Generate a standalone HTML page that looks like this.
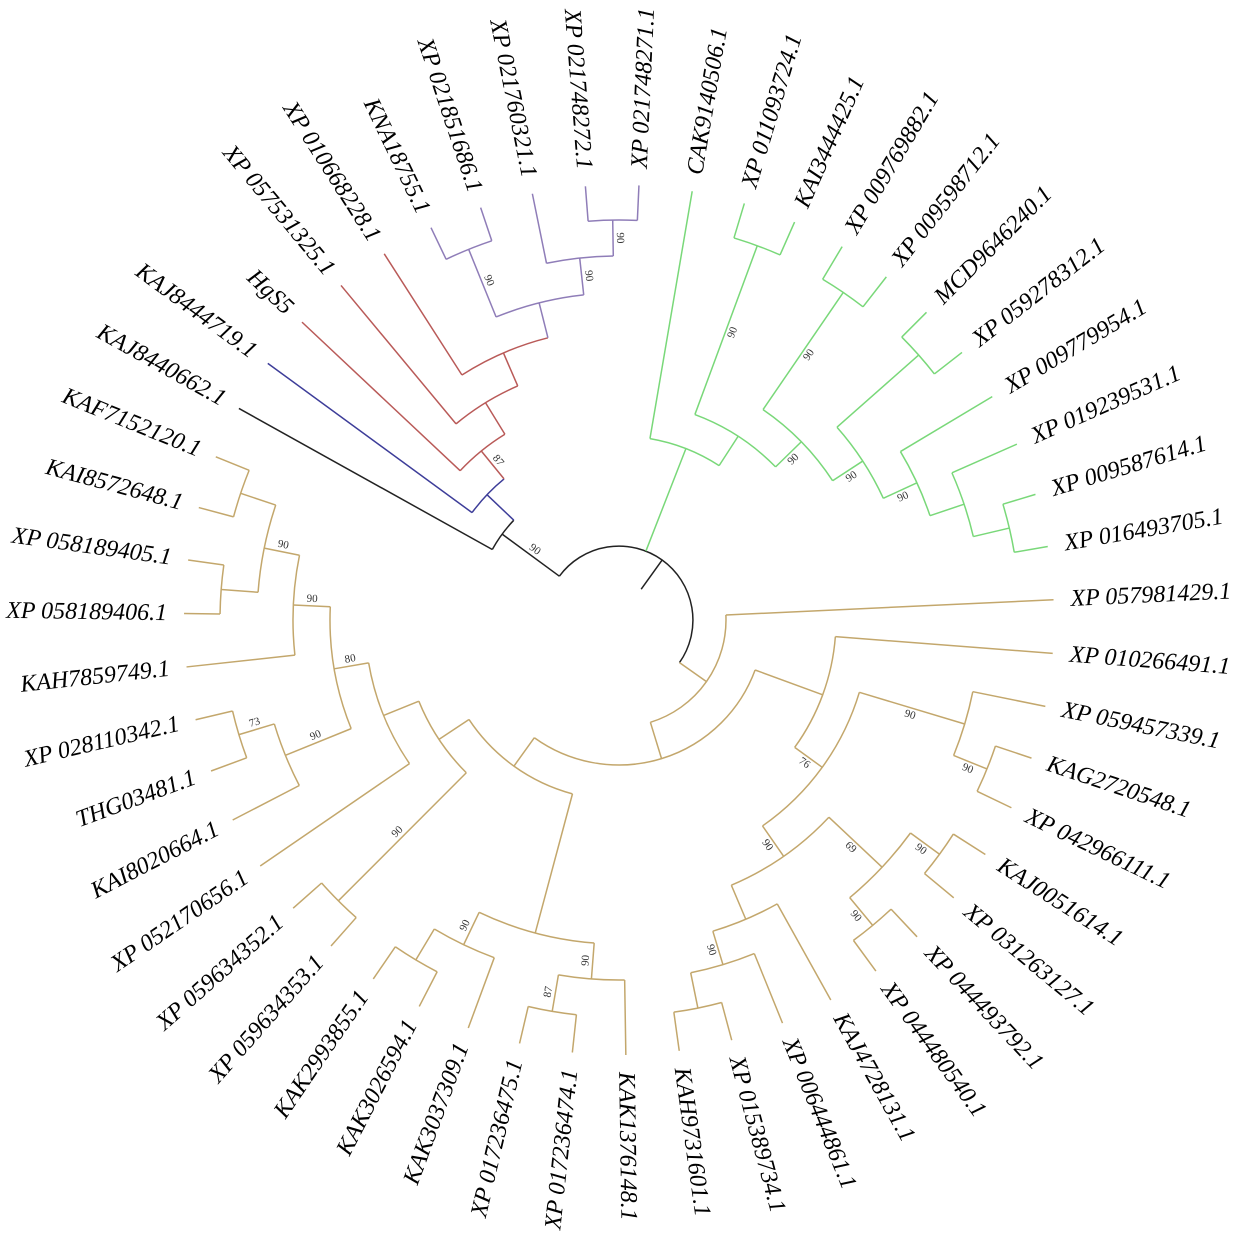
<!DOCTYPE html>
<html><head><meta charset="utf-8"><style>
html,body{margin:0;padding:0;background:#fff;}
svg{display:block;}
.lb{font-family:"Liberation Serif",serif;font-style:italic;font-size:24px;fill:#000;}
.bs{font-family:"Liberation Serif",serif;font-size:11px;fill:#333;}
</style></head><body>
<svg id="s" width="1234" height="1236" viewBox="0 0 1234 1236" xmlns="http://www.w3.org/2000/svg"></svg>
<script>
const CX=619,CY=620;
function P(r,a){const t=a*Math.PI/180;return [CX+r*Math.cos(t),CY-r*Math.sin(t)];}
const PU='#8f7db8',RD='#b95a58',BL='#3d3d99',BK='#222',GR='#79d879',TN='#c3a76c';
const I={r:400,c:['XP 021748272.1','XP 021748271.1'],col:PU,bs:90};
const H={r:364,c:['XP 021760321.1',I],col:PU,bs:90};
const G={r:400,c:['KNA18755.1','XP 021851686.1'],col:PU,bs:90};
const F={r:327,c:[G,H],col:PU};
const E={r:291,c:['XP 010668228.1',F],col:RD};
const D={r:255,c:['XP 057531325.1',E],col:RD};
const C={r:218,c:['HgS5',D],col:RD,bs:87};
const B={r:182,c:['KAJ8444719.1',C],col:BL};
const A={r:145,c:['KAJ8440662.1',B],col:BK,bs:90};
const G10={r:401,c:['XP 009587614.1','XP 016493705.1']};
const G9={r:364,c:['XP 019239531.1',G10]};
const G8={r:328,c:['XP 009779954.1',G9],bs:90};
const G7={r:400,c:['MCD9646240.1','XP 059278312.1']};
const G6={r:291,c:[G7,G8],bs:90};
const G5={r:397,c:['XP 009769882.1','XP 009598712.1'],bs:90};
const G4={r:255,c:[G5,G6],bs:90};
const G3={r:399,c:['XP 011093724.1','KAI3444425.1'],bs:90};
const G2={r:219,c:[G3,G4]};
const G1={r:184,c:['CAK9140506.1',G2],col:GR};
const T28={r:399,c:['KAI8572648.1','KAF7152120.1']};
const T27={r:399,c:['XP 058189406.1','XP 058189405.1']};
const T26={r:362,c:[T27,T28],bs:90};
const T24={r:326,c:['KAH7859749.1',T26],bs:90};
const T25={r:397,c:['THG03481.1','XP 028110342.1'],bs:73};
const T23={r:360,c:['KAI8020664.1',T25],bs:90};
const T22={r:289,c:[T23,T24],bs:80};
const T21={r:254,c:['XP 052170656.1',T22]};
const T20={r:397,c:['XP 059634353.1','XP 059634352.1'],bs:90};
const T15={r:216,c:[T20,T21]};
const T19={r:396,c:['KAK3026594.1','KAK2993855.1']};
const T17={r:360,c:['KAK3037309.1',T19],bs:90};
const T18={r:397,c:['XP 017236474.1','XP 017236475.1'],bs:87};
const T16={r:360,c:['KAK1376148.1',T18],bs:90};
const T14={r:324,c:[T16,T17]};
const T13={r:180,c:[T14,T15]};
const T12={r:396,c:['XP 015389734.1','KAH9731601.1']};
const T11={r:360,c:['XP 006444861.1',T12],bs:90};
const T8={r:325,c:['KAJ4728131.1',T11]};
const T10={r:397,c:['XP 044493792.1','XP 044480540.1'],bs:90};
const T9={r:397,c:['KAJ0051614.1','XP 031263127.1'],bs:90};
const T7={r:361,c:[T9,T10],bs:69};
const T5={r:288,c:[T7,T8],bs:90};
const T6={r:397,c:['KAG2720548.1','XP 042966111.1'],bs:90};
const T4={r:361,c:['XP 059457339.1',T6],bs:90};
const T3={r:251,c:[T4,T5],bs:76};
const T2={r:217,c:['XP 010266491.1',T3]};
const T1={r:145,c:[T2,T13]};
const T0={r:107,c:['XP 057981429.1',T1],col:TN};
const ROOT={r:74,c:[A,G1,T0],col:BK};
let j=0;
function lay(n){
  if(typeof n==='string') return {name:n,a:150.9-7.0588*(j++),r:435};
  n.kids=n.c.map(lay);
  n.a=(n.kids[0].a+n.kids[n.kids.length-1].a)/2;
  return n;
}
function col(n,pc){ if(n.name) return; n.col=n.col||pc; n.kids.forEach(k=>col(k,n.col)); }
lay(ROOT); col(ROOT,BK);
let out='';
function f(v){return v.toFixed(2);}
function line(p,q,c){out+=`<line x1="${f(p[0])}" y1="${f(p[1])}" x2="${f(q[0])}" y2="${f(q[1])}" stroke="${c}" stroke-width="1.5"/>`;}
function arc(r,a1,a2,c){
  const p=P(r,a1),q=P(r,a2);const large=(a1-a2)>180?1:0;
  out+=`<path d="M${f(p[0])} ${f(p[1])} A${r} ${r} 0 ${large} 1 ${f(q[0])} ${f(q[1])}" fill="none" stroke="${c}" stroke-width="1.5"/>`;
}
function norm(a){while(a>180)a-=360;while(a<=-180)a+=360;return a;}
function label(k){
  const a=norm(k.a);const p=P(452,k.a);
  if(a>-90&&a<=90){
    out+=`<text class="lb" x="${f(p[0])}" y="${f(p[1])}" dominant-baseline="central" text-anchor="start" transform="rotate(${f(-a)} ${f(p[0])} ${f(p[1])})">${k.name}</text>`;
  } else {
    out+=`<text class="lb" x="${f(p[0])}" y="${f(p[1])}" dominant-baseline="central" text-anchor="end" transform="rotate(${f(180-a)} ${f(p[0])} ${f(p[1])})">${k.name}</text>`;
  }
}
function bsl(rm,aa,v){
  const a=norm(aa);const t=aa*Math.PI/180;
  const p=P(rm,aa);const x=p[0]+7*Math.sin(t),y=p[1]+7*Math.cos(t);
  const rot=(a>-90&&a<=90)?-a:180-a;
  out+=`<text class="bs" x="${f(x)}" y="${f(y)}" dominant-baseline="central" text-anchor="middle" transform="rotate(${f(rot)} ${f(x)} ${f(y)})">${v}</text>`;
}
function dr(n){
  arc(n.r,n.kids[0].a,n.kids[n.kids.length-1].a,n.col);
  n.kids.forEach(k=>{
    line(P(n.r,k.a),P(k.r,k.a),k.name?n.col:k.col);
    if(k.name) label(k); else { dr(k); if(k.bs) bsl((n.r+k.r)/2,k.a,k.bs); }
  });
}
line(P(38,ROOT.a),P(74,ROOT.a),BK);
dr(ROOT);
document.getElementById('s').innerHTML=out;
</script>
</body></html>
